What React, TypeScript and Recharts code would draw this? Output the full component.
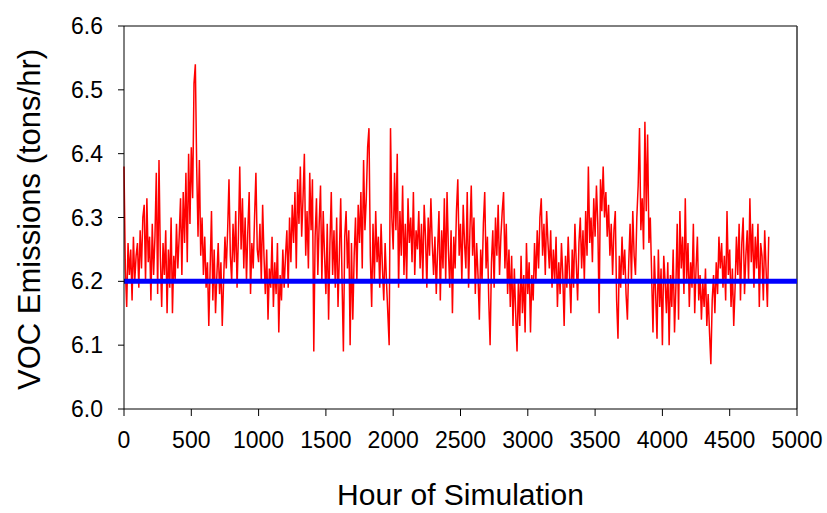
import React from 'react';
import { LineChart, Line, XAxis, YAxis, ReferenceLine, Label } from 'recharts';

const HOUR_STEP = 10;
const vocH0000: number[] = [
  6.38, 6.22, 6.16, 6.26, 6.21, 6.25, 6.17, 6.27, 6.20, 6.24,
  6.26, 6.19, 6.28, 6.22, 6.30, 6.32, 6.20, 6.33, 6.23, 6.27,
  6.17, 6.29, 6.21, 6.27, 6.37, 6.18, 6.39, 6.24, 6.16, 6.26,
  6.21, 6.28, 6.15, 6.25, 6.19, 6.30, 6.15, 6.24, 6.20, 6.29,
  6.22, 6.27, 6.33, 6.21, 6.34, 6.26, 6.37, 6.23, 6.40, 6.29,
];
const vocH0500: number[] = [
  6.41, 6.33, 6.51, 6.54, 6.38, 6.27, 6.39, 6.24, 6.30, 6.21,
  6.27, 6.19, 6.23, 6.13, 6.22, 6.31, 6.17, 6.25, 6.15, 6.21,
  6.26, 6.18, 6.23, 6.13, 6.20, 6.27, 6.22, 6.28, 6.36, 6.24,
  6.20, 6.29, 6.23, 6.31, 6.19, 6.27, 6.38, 6.25, 6.33, 6.22,
  6.30, 6.20, 6.28, 6.34, 6.18, 6.26, 6.22, 6.30, 6.37, 6.25,
];
const vocH1000: number[] = [
  6.23, 6.29, 6.20, 6.32, 6.24, 6.18, 6.25, 6.14, 6.22, 6.19,
  6.27, 6.16, 6.23, 6.18, 6.26, 6.12, 6.21, 6.17, 6.25, 6.19,
  6.24, 6.28, 6.19, 6.30, 6.23, 6.32, 6.26, 6.34, 6.22, 6.36,
  6.29, 6.38, 6.27, 6.33, 6.40, 6.24, 6.31, 6.22, 6.37, 6.28,
  6.36, 6.09, 6.27, 6.33, 6.21, 6.29, 6.35, 6.20, 6.31, 6.24,
];
const vocH1500: number[] = [
  6.18, 6.29, 6.14, 6.26, 6.34, 6.21, 6.28, 6.19, 6.30, 6.16,
  6.24, 6.33, 6.20, 6.09, 6.27, 6.31, 6.22, 6.28, 6.10, 6.26,
  6.14, 6.24, 6.30, 6.20, 6.32, 6.26, 6.34, 6.22, 6.39, 6.28,
  6.33, 6.41, 6.44, 6.24, 6.16, 6.29, 6.20, 6.31, 6.23, 6.27,
  6.19, 6.29, 6.22, 6.17, 6.26, 6.20, 6.15, 6.10, 6.44, 6.30,
];
const vocH2000: number[] = [
  6.25, 6.37, 6.28, 6.40, 6.19, 6.31, 6.24, 6.35, 6.21, 6.29,
  6.20, 6.33, 6.26, 6.30, 6.23, 6.34, 6.21, 6.28, 6.25, 6.31,
  6.22, 6.29, 6.20, 6.32, 6.27, 6.19, 6.30, 6.24, 6.33, 6.26,
  6.21, 6.27, 6.18, 6.25, 6.31, 6.17, 6.28, 6.22, 6.33, 6.20,
  6.34, 6.25, 6.19, 6.28, 6.15, 6.27, 6.22, 6.31, 6.36, 6.24,
];
const vocH2500: number[] = [
  6.29, 6.20, 6.32, 6.26, 6.22, 6.34, 6.19, 6.28, 6.35, 6.24,
  6.30, 6.18, 6.26, 6.21, 6.14, 6.25, 6.20, 6.29, 6.34, 6.22,
  6.27, 6.17, 6.10, 6.23, 6.28, 6.19, 6.30, 6.24, 6.32, 6.21,
  6.27, 6.31, 6.34, 6.22, 6.29, 6.18, 6.25, 6.16, 6.24, 6.13,
  6.22, 6.15, 6.09, 6.20, 6.13, 6.24, 6.15, 6.21, 6.12, 6.26,
];
const vocH3000: number[] = [
  6.18, 6.23, 6.12, 6.21, 6.17, 6.26, 6.20, 6.28, 6.22, 6.30,
  6.33, 6.24, 6.29, 6.21, 6.31, 6.26, 6.22, 6.28, 6.19, 6.25,
  6.20, 6.27, 6.16, 6.23, 6.18, 6.26, 6.21, 6.13, 6.24, 6.19,
  6.27, 6.21, 6.15, 6.25, 6.19, 6.29, 6.23, 6.17, 6.26, 6.30,
  6.22, 6.28, 6.20, 6.31, 6.24, 6.38, 6.26, 6.30, 6.23, 6.33,
];
const vocH3500: number[] = [
  6.27, 6.35, 6.29, 6.15, 6.36, 6.31, 6.38, 6.30, 6.34, 6.27,
  6.32, 6.24, 6.29, 6.21, 6.28, 6.31, 6.17, 6.11, 6.24, 6.19,
  6.27, 6.21, 6.25, 6.18, 6.14, 6.23, 6.29, 6.20, 6.31, 6.24,
  6.21, 6.30, 6.35, 6.44, 6.28, 6.33, 6.25, 6.45, 6.31, 6.43,
  6.26, 6.30, 6.21, 6.12, 6.24, 6.18, 6.11, 6.25, 6.16, 6.22,
];
const vocH4000: number[] = [
  6.10, 6.24, 6.20, 6.15, 6.23, 6.10, 6.21, 6.16, 6.25, 6.12,
  6.19, 6.29, 6.14, 6.31, 6.22, 6.27, 6.18, 6.33, 6.20, 6.26,
  6.16, 6.23, 6.19, 6.29, 6.15, 6.22, 6.27, 6.17, 6.21, 6.14,
  6.20, 6.16, 6.22, 6.13, 6.18, 6.12, 6.07, 6.17, 6.21, 6.15,
  6.23, 6.18, 6.27, 6.22, 6.26, 6.19, 6.24, 6.17, 6.31, 6.21,
];
const vocH4500: number[] = [
  6.25, 6.16, 6.22, 6.13, 6.19, 6.27, 6.21, 6.29, 6.17, 6.26,
  6.30, 6.18, 6.24, 6.28, 6.20, 6.33, 6.23, 6.29, 6.19, 6.27,
  6.22, 6.29, 6.16, 6.26, 6.24, 6.17, 6.28, 6.22, 6.16, 6.27,
];

const referenceLevel = 6.2;
const xTicks = [0, 500, 1000, 1500, 2000, 2500, 3000, 3500, 4000, 4500, 5000];
const yTicks = [6.0, 6.1, 6.2, 6.3, 6.4, 6.5, 6.6];
const xTitle = 'Hour of Simulation';
const yTitle = 'VOC Emissions (tons/hr)';

const allVoc = [
  ...vocH0000, ...vocH0500, ...vocH1000, ...vocH1500, ...vocH2000,
  ...vocH2500, ...vocH3000, ...vocH3500, ...vocH4000, ...vocH4500,
];
const data = allVoc.map((v, i) => ({ hour: i * HOUR_STEP, voc: v }));

const FONT = "Arial, 'Liberation Sans', sans-serif";

const YTitle = (props: any) => {
  const vb = props.viewBox || { x: 0, y: 26, width: 124, height: 383 };
  const cx = vb.x + 29;
  const cy = vb.y + vb.height / 2 + 2;
  return (
    <text
      x={cx}
      y={cy}
      transform={`rotate(-90, ${cx}, ${cy})`}
      textAnchor="middle"
      dominantBaseline="central"
      fontSize={31}
      fontFamily={FONT}
      fill="#000"
    >
      {yTitle}
    </text>
  );
};

const XTitle = (props: any) => {
  const vb = props.viewBox || { x: 124, y: 409, width: 673, height: 104 };
  return (
    <text
      x={vb.x + vb.width / 2}
      y={vb.y + 96}
      textAnchor="middle"
      fontSize={30}
      fontFamily={FONT}
      fill="#000"
    >
      {xTitle}
    </text>
  );
};

export default function App() {
  return (
    <div style={{ position: 'absolute', left: 0, top: 0, width: 827, height: 513, background: '#fff' }}>
      <LineChart
        width={827}
        height={513}
        data={data}
        margin={{ top: 26, right: 30, bottom: 0, left: 0 }}
      >
        <XAxis
          dataKey="hour"
          type="number"
          domain={[0, 5000]}
          ticks={xTicks}
          height={104}
          tickSize={7}
          tickMargin={16}
          stroke="#000"
          tick={{ fill: '#000', fontSize: 23, fontFamily: FONT }}
          interval={0}
        >
          <Label content={<XTitle />} />
        </XAxis>
        <YAxis
          type="number"
          domain={[6.0, 6.6]}
          ticks={yTicks}
          width={124}
          tickSize={6}
          tickMargin={15}
          stroke="#000"
          tickFormatter={(v: number) => v.toFixed(1)}
          tick={{ fill: '#000', fontSize: 23, fontFamily: FONT }}
          interval={0}
        >
          <Label content={<YTitle />} />
        </YAxis>
        <ReferenceLine y={6.6} stroke="#000" strokeWidth={1} />
        <ReferenceLine x={5000} stroke="#333" strokeWidth={1.5} />
        <Line
          type="linear"
          dataKey="voc"
          stroke="#ff0000"
          strokeWidth={1.5}
          dot={false}
          isAnimationActive={false}
        />
        <ReferenceLine y={referenceLevel} stroke="#0000ff" strokeWidth={5} />
      </LineChart>
    </div>
  );
}
